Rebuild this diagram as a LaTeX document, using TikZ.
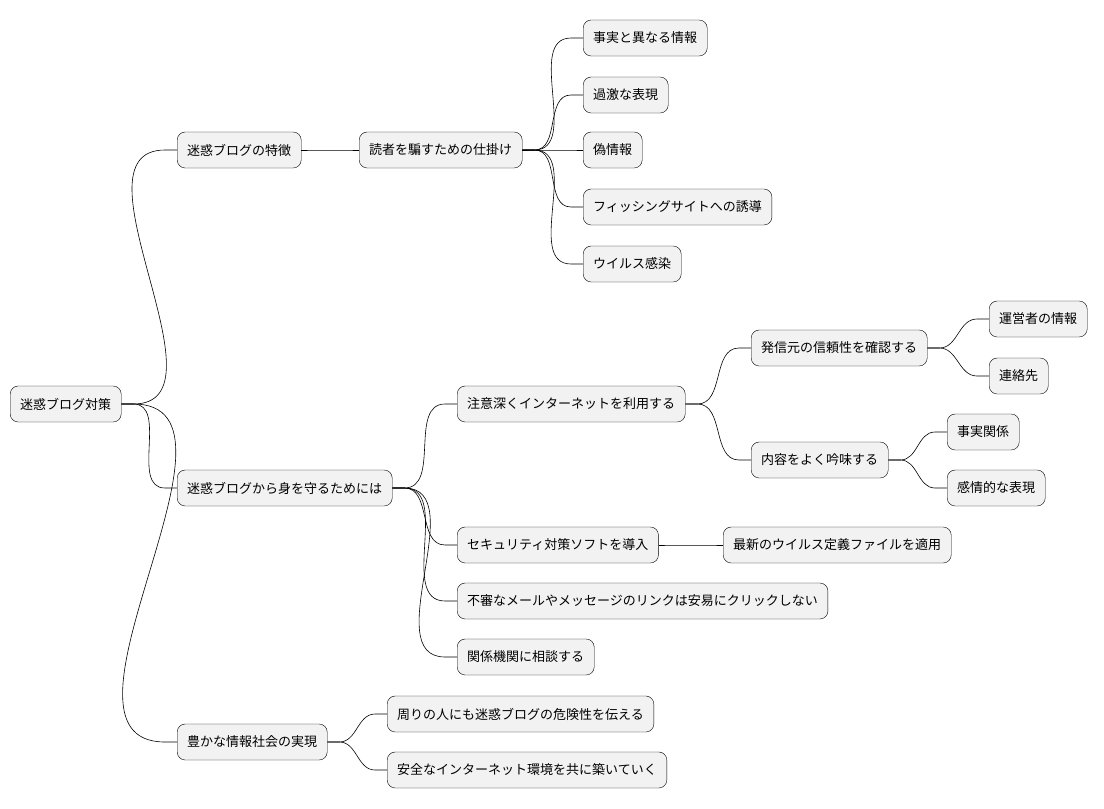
\documentclass[tikz,border=0pt]{standalone}
\usepackage{fontspec}
\setmainfont{Noto Sans CJK JP}
\usetikzlibrary{calc}
\tikzset{
  topic/.style={draw=black, fill=gray!10, rounded corners=8pt, minimum height=36pt,
    inner xsep=10pt, anchor=west, font=\fontsize{13pt}{15pt}\selectfont},
  link/.style={draw=black, line width=0.6pt}
}
\newcommand{\joinmap}[2]{\draw[link] (#1.east) -- ++(12,0) to[out=0,in=180] ($(#2.west)+(-12,0)$) -- (#2.west);}
\begin{document}
\begin{tikzpicture}[x=1pt,y=-1pt]
  \useasboundingbox (0,0) rectangle (1104,809);
  \node[topic] (root) at (10,404) {迷惑ブログ対策};
  \node[topic] (feat) at (177,150) {迷惑ブログの特徴};
  \node[topic] (trick) at (359,150) {読者を騙すための仕掛け};
  \node[topic] (t1) at (583,38) {事実と異なる情報};
  \node[topic] (t2) at (583,95) {過激な表現};
  \node[topic] (t3) at (583,150) {偽情報};
  \node[topic] (t4) at (583,207) {フィッシングサイトへの誘導};
  \node[topic] (t5) at (583,264) {ウイルス感染};
  \node[topic] (guard) at (177,488) {迷惑ブログから身を守るためには};
  \node[topic] (care) at (457,404) {注意深くインターネットを利用する};
  \node[topic] (src) at (751,348) {発信元の信頼性を確認する};
  \node[topic] (s1) at (989,319) {運営者の情報};
  \node[topic] (s2) at (989,376) {連絡先};
  \node[topic] (cont) at (751,460) {内容をよく吟味する};
  \node[topic] (c1) at (947,432) {事実関係};
  \node[topic] (c2) at (947,488) {感情的な表現};
  \node[topic] (sec) at (457,545) {セキュリティ対策ソフトを導入};
  \node[topic] (upd) at (723,545) {最新のウイルス定義ファイルを適用};
  \node[topic] (mail) at (457,601) {不審なメールやメッセージのリンクは安易にクリックしない};
  \node[topic] (org) at (457,657) {関係機関に相談する};
  \node[topic] (soc) at (177,742) {豊かな情報社会の実現};
  \node[topic] (tell) at (387,714) {周りの人にも迷惑ブログの危険性を伝える};
  \node[topic] (build) at (387,770) {安全なインターネット環境を共に築いていく};
  % connectors
  \foreach \a/\b in {root/feat,feat/trick,trick/t1,trick/t2,trick/t3,trick/t4,trick/t5,
    root/guard,guard/care,care/src,src/s1,src/s2,care/cont,cont/c1,cont/c2,
    guard/sec,sec/upd,guard/mail,guard/org,root/soc,soc/tell,soc/build}
    {\joinmap{\a}{\b}}
\end{tikzpicture}
\end{document}
